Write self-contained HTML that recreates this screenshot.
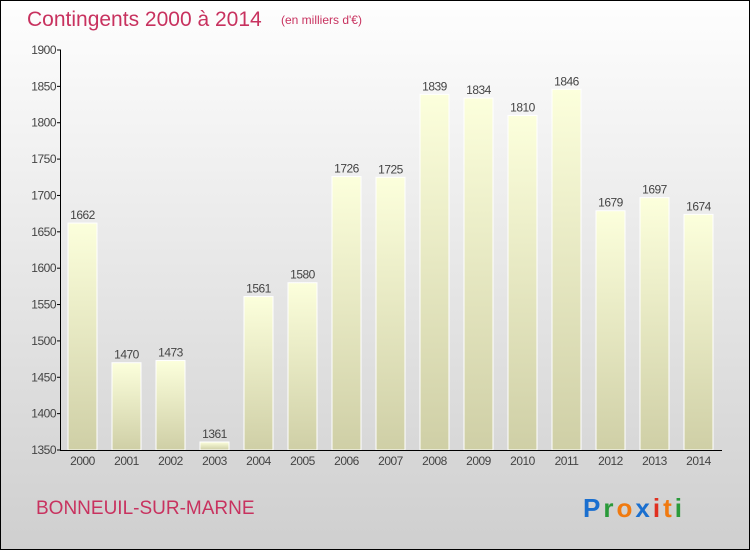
<!DOCTYPE html>
<html><head><meta charset="utf-8"><style>
body{margin:0}
#c{position:relative;width:748px;height:548px;border:1px solid #000;background:linear-gradient(#fefefe,#cfcfcf);font-family:"Liberation Sans",sans-serif;overflow:hidden}
</style></head><body>
<div id="c">
<svg width="748" height="548" viewBox="1 1 748 548" xmlns="http://www.w3.org/2000/svg">
<defs><linearGradient id="bg" x1="0" y1="0" x2="0" y2="1"><stop offset="0" stop-color="#fcffdc"/><stop offset="1" stop-color="#cfcfa6"/></linearGradient></defs>
<text x="27" y="26" font-size="21" fill="#c8325f">Contingents 2000 à 2014</text>
<text x="281" y="24" font-size="12" fill="#c8325f">(en milliers d'€)</text>
<g id="bars"></g>
<line x1="60.5" y1="50" x2="60.5" y2="450" stroke="#000"/>
<line x1="60" y1="450.5" x2="722" y2="450.5" stroke="#000"/>
<g id="yt"></g><g id="xt"></g>
<text x="36" y="514" font-size="19" fill="#c8325f">BONNEUIL-SUR-MARNE</text>
<text x="583" y="517" font-size="26" font-weight="bold" letter-spacing="3"><tspan fill="#1a6fcf">P</tspan><tspan fill="#2a9a3a">r</tspan><tspan fill="#f07a10">o</tspan><tspan fill="#1a6fcf">x</tspan><tspan fill="#e03020">i</tspan><tspan fill="#f07a10">t</tspan><tspan fill="#2a9a3a">i</tspan></text>
</svg></div>
<script>
const years=["2000","2001","2002","2003","2004","2005","2006","2007","2008","2009","2010","2011","2012","2013","2014"];
const values=[1662,1470,1473,1361,1561,1580,1726,1725,1839,1834,1810,1846,1679,1697,1674];
const yTicks=[1350,1400,1450,1500,1550,1600,1650,1700,1750,1800,1850,1900];
const NS="http://www.w3.org/2000/svg";
const y=v=>450-(v-1350)*400/550;
const x=i=>68+i*44;
function mk(t,a,p){const e=document.createElementNS(NS,t);for(const k in a)e.setAttribute(k,a[k]);p.appendChild(e);return e;}
const yt=document.getElementById('yt'),xt=document.getElementById('xt'),bars=document.getElementById('bars');
yTicks.forEach(v=>{
 const l=mk('line',{x1:57,x2:61,y1:y(v),y2:y(v),stroke:'#000'},yt);
 
 
 const t=mk('text',{x:56,y:y(v)+4,'font-size':12,fill:'#444','text-anchor':'end','letter-spacing':'-0.5'},yt);
 t.textContent=v;
 
 
});
years.forEach((yr,i)=>{
 const r=mk('rect',{x:x(i),y:y(values[i]),width:29,height:450-y(values[i]),fill:'url(#bg)',stroke:'#fff','stroke-width':1},bars);
 
 
 const v=mk('text',{x:x(i)+14.5,y:y(values[i])-4,'font-size':12,fill:'#444','text-anchor':'middle','letter-spacing':'-0.5'},bars);
 v.textContent=values[i];
 
 
 const t=mk('text',{x:x(i)+14.5,y:465,'font-size':12,fill:'#444','text-anchor':'middle','letter-spacing':'-0.5'},xt);
 t.textContent=yr;
 
 
});
</script>
</body></html>
